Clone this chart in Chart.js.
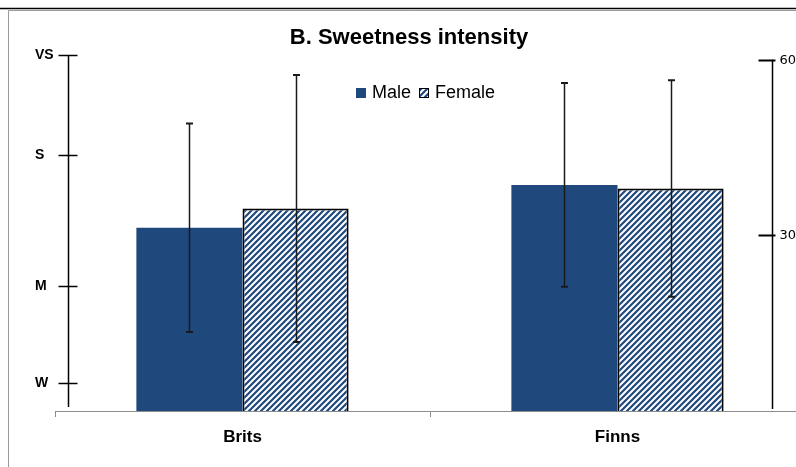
<!DOCTYPE html>
<html lang="en">
<head>
<meta charset="UTF-8">
<title>B. Sweetness intensity</title>
<script src="https://cdn.jsdelivr.net/npm/chart.js@4.4.1/dist/chart.umd.min.js"></script>
<style>
  html, body { margin: 0; padding: 0; background: #fff; overflow: hidden; }
</style>
</head>
<body>
<canvas id="chart" width="818" height="467"></canvas>
<script>
// data (values in units of the right-hand 0-60 axis)
const categories = ['Brits', 'Finns'];
const seriesNames = ['Male', 'Female'];
const maleMeans = [31.3, 38.6];
const femaleMeans = [34.6, 38.0];
const maleErrors = [17.8, 17.4];
const femaleErrors = [22.8, 18.5];
const rightTicks = [30, 60];
const leftTickLabels = ['W', 'M', 'S', 'VS'];
const leftTickValues = [4.7, 21.3, 43.7, 60.8];

const BLUE = '#1F497D';
const FONT = '"Liberation Sans", Arial, sans-serif';

// diagonal hatch like Excel's "wide upward diagonal"
function hatch(color) {
  const p = document.createElement('canvas');
  p.width = 6; p.height = 6;
  const c = p.getContext('2d');
  c.fillStyle = '#fff';
  c.fillRect(0, 0, 6, 6);
  c.strokeStyle = color;
  c.lineWidth = 2.2;
  c.beginPath();
  c.moveTo(-1, 7); c.lineTo(7, -1);
  c.moveTo(-4, 4); c.lineTo(4, -4);
  c.moveTo(2, 10); c.lineTo(10, 2);
  c.stroke();
  return c.createPattern(p, 'repeat');
}
const hatchFill = hatch(BLUE);

// page frame lines
const frame = {
  id: 'frame',
  beforeDraw(chart) {
    const ctx = chart.ctx;
    ctx.save();
    ctx.fillStyle = '#fff';
    ctx.fillRect(0, 0, chart.width, chart.height);
    ctx.strokeStyle = '#000';
    ctx.lineWidth = 1.5;
    ctx.beginPath(); ctx.moveTo(0, 8.5); ctx.lineTo(chart.width, 8.5); ctx.stroke();
    ctx.strokeStyle = '#9a9a9a';
    ctx.lineWidth = 1;
    ctx.beginPath(); ctx.moveTo(8.5, chart.height); ctx.lineTo(8.5, 10.5); ctx.lineTo(chart.width, 10.5); ctx.stroke();
    ctx.restore();
  }
};

// error bars from dataset.errors
const errorBars = {
  id: 'errorBars',
  afterDatasetsDraw(chart) {
    const ctx = chart.ctx;
    const y = chart.scales.y;
    ctx.save();
    ctx.strokeStyle = '#1a1a1a';
    chart.data.datasets.forEach((ds, i) => {
      chart.getDatasetMeta(i).data.forEach((bar, j) => {
        const v = ds.data[j], e = ds.errors[j];
        const top = y.getPixelForValue(v + e);
        const bot = y.getPixelForValue(v - e);
        const cx = Math.round(bar.x) + 0.5;
        ctx.lineWidth = 1.5;
        ctx.beginPath(); ctx.moveTo(cx, top); ctx.lineTo(cx, bot); ctx.stroke();
        ctx.lineWidth = 2;
        ctx.beginPath();
        ctx.moveTo(cx - 3.5, top); ctx.lineTo(cx + 3.5, top);
        ctx.moveTo(cx - 3.5, bot); ctx.lineTo(cx + 3.5, bot);
        ctx.stroke();
      });
    });
    ctx.restore();
  }
};

// the two free-standing vertical axes inside the plot
const sideAxes = {
  id: 'sideAxes',
  afterDatasetsDraw(chart) {
    const ctx = chart.ctx;
    const y = chart.scales.y;
    const area = chart.chartArea;
    const lx = area.left + 13.5;
    const rx = area.right - 32.5;
    ctx.save();
    ctx.strokeStyle = '#000';

    // left descriptive axis
    ctx.lineWidth = 1.5;
    ctx.beginPath();
    ctx.moveTo(lx, y.getPixelForValue(leftTickValues[leftTickValues.length - 1]));
    ctx.lineTo(lx, area.bottom - 4);
    ctx.stroke();
    ctx.font = 'bold 14px ' + FONT;
    ctx.fillStyle = '#000';
    ctx.textAlign = 'left';
    ctx.textBaseline = 'middle';
    leftTickValues.forEach((v, i) => {
      const py = Math.round(y.getPixelForValue(v)) + 0.5;
      ctx.beginPath(); ctx.moveTo(lx - 10, py); ctx.lineTo(lx + 9, py); ctx.stroke();
      ctx.fillText(leftTickLabels[i], 35, py);
    });

    // right numeric axis
    ctx.lineWidth = 1.5;
    ctx.beginPath();
    ctx.moveTo(rx, y.getPixelForValue(rightTicks[rightTicks.length - 1]));
    ctx.lineTo(rx, area.bottom - 2);
    ctx.stroke();
    ctx.font = '13px "DejaVu Sans", Verdana, sans-serif';
    rightTicks.forEach((v) => {
      const py = Math.round(y.getPixelForValue(v)) + 0.5;
      ctx.lineWidth = 2;
      ctx.beginPath(); ctx.moveTo(rx - 14, py); ctx.lineTo(rx + 3, py); ctx.stroke();
      ctx.fillText(String(v), rx + 7, py);
    });
    ctx.restore();
  }
};

// legend inside the plot, under the title
const legendBox = {
  id: 'legendBox',
  afterDraw(chart) {
    const ctx = chart.ctx;
    ctx.save();
    ctx.font = '18px ' + FONT;
    ctx.textBaseline = 'alphabetic';
    ctx.textAlign = 'left';
    let lx = 356;
    const base = 97.5;
    chart.data.datasets.forEach((ds) => {
      ctx.fillStyle = ds.backgroundColor;
      ctx.fillRect(lx, 88, 10, 10);
      if (ds.borderWidth) {
        ctx.strokeStyle = '#000';
        ctx.lineWidth = 1;
        ctx.strokeRect(lx + 0.5, 88.5, 9, 9);
      }
      ctx.fillStyle = '#000';
      ctx.fillText(ds.label, lx + 16, base);
      lx += 16 + ctx.measureText(ds.label).width + 8;
    });
    ctx.restore();
  }
};

new Chart(document.getElementById('chart'), {
  type: 'bar',
  data: {
    labels: categories,
    datasets: [
      {
        label: seriesNames[0],
        data: maleMeans,
        errors: maleErrors,
        backgroundColor: BLUE,
        borderWidth: 0
      },
      {
        label: seriesNames[1],
        data: femaleMeans,
        errors: femaleErrors,
        backgroundColor: hatchFill,
        borderColor: '#000',
        borderWidth: 2
      }
    ]
  },
  options: {
    responsive: false,
    animation: false,
    events: [],
    categoryPercentage: 0.566,
    barPercentage: 1.0,
    layout: { padding: 0 },
    plugins: {
      legend: { display: false },
      tooltip: { enabled: false },
      title: {
        display: true,
        text: 'B. Sweetness intensity',
        color: '#000',
        font: { family: FONT, size: 22, weight: 'bold' },
        padding: { top: 25, bottom: 3.6 }
      }
    },
    scales: {
      x: {
        offset: true,
        grid: {
          offset: true,
          drawOnChartArea: false,
          drawTicks: true,
          tickLength: 6,
          color: '#8c8c8c'
        },
        border: { color: '#8c8c8c', width: 1 },
        ticks: {
          color: '#000',
          padding: 10,
          font: { family: FONT, size: 17, weight: 'bold' }
        },
        afterFit(scale) { scale.height = 56; }
      },
      y: {
        position: 'left',
        min: 0,
        max: 60.8,
        grid: { display: false },
        border: { display: false },
        ticks: { display: false },
        afterFit(scale) { scale.width = 55; }
      },
      yR: {
        position: 'right',
        grid: { display: false },
        border: { display: false },
        ticks: { display: false },
        afterFit(scale) { scale.width = 13; }
      }
    }
  },
  plugins: [frame, errorBars, sideAxes, legendBox]
});
</script>
</body>
</html>
